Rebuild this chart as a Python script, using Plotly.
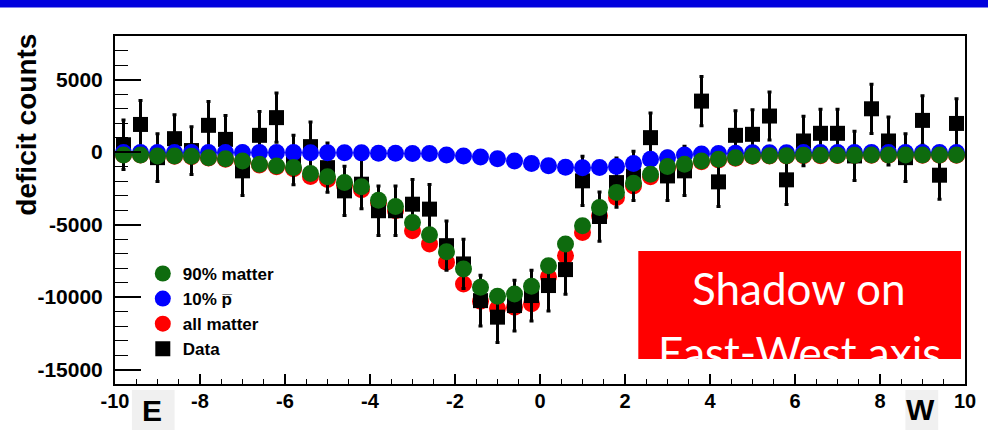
import plotly.graph_objects as go

# ---- data ----
x_bins = [-9.8, -9.4, -9.0, -8.6, -8.2, -7.8, -7.4, -7.0, -6.6, -6.2,
          -5.8, -5.4, -5.0, -4.6, -4.2, -3.8, -3.4, -3.0, -2.6, -2.2,
          -1.8, -1.4, -1.0, -0.6, -0.2, 0.2, 0.6, 1.0, 1.4, 1.8,
          2.2, 2.6, 3.0, 3.4, 3.8, 4.2, 4.6, 5.0, 5.4, 5.8,
          6.2, 6.6, 7.0, 7.4, 7.8, 8.2, 8.6, 9.0, 9.4, 9.8]

matter90 = [-200, -200, -275, -275, -300, -390, -460, -620, -850, -960,
            -1075, -1490, -1700, -2100, -2400, -3320, -3760, -4860, -5700, -6880,
            -8070, -9330, -9950, -9790, -9260, -7840, -6350, -5090, -3830, -2800,
            -2150, -1530, -1000, -850, -620, -500, -390, -275, -250, -250,
            -230, -230, -220, -220, -200, -200, -200, -200, -200, -200]

pbar10 = [-40, -40, -40, -40, -40, -40, -40, -40, -40, -40,
          -40, -50, -50, -50, -60, -80, -90, -100, -110, -200,
          -275, -340, -460, -620, -800, -950, -1050, -1080, -1070, -1000,
          -800, -500, -390, -200, -140, -110, -80, -60, -50, -50,
          -40, -40, -40, -40, -40, -40, -40, -40, -40, -40]

all_matter = [-210, -210, -290, -290, -320, -420, -500, -650, -900, -1020,
              -1150, -1690, -1900, -2300, -2600, -3500, -4050, -5430, -6350, -7600,
              -9100, -10300, -10800, -10700, -10470, -8600, -7150, -5550, -4400, -3140,
              -2340, -1700, -1100, -950, -680, -550, -430, -300, -280, -270,
              -250, -250, -240, -240, -230, -220, -220, -220, -220, -220]

data_vals = [500, 1900, -390, 920, 100, 1840, 870, -1300, 1150, 2370,
             -550, 370, -1080, -2680, -2220, -4050, -4050, -3600, -3940, -6460,
             -7720, -10250, -11390, -10590, -9900, -9210, -8110, -1990, -4450, -2110,
             -1650, 990, -1650, -1300, 3510, -2060, 1150, 1220, 2480, -1920,
             760, 1290, 1290, -270, 2980, 760, -390, 2180, -1600, 1970]

data_err = [1700, 1650, 1650, 1650, 1650, 1650, 1650, 1700, 1650, 1700,
            1700, 1700, 1700, 1700, 1700, 1700, 1700, 1700, 1700, 1700,
            1700, 1750, 1750, 1750, 1750, 1750, 1700, 1700, 1700, 1700,
            1700, 1700, 1700, 1700, 1700, 1700, 1700, 1700, 1650, 1700,
            1700, 1650, 1650, 1700, 1700, 1650, 1650, 1700, 1650, 1700]

y_tick_vals = [-15000, -10000, -5000, 0, 5000]
y_tick_text = ["-15000", "-10000", "-5000", "0", "5000"]
x_tick_vals = [-10, -8, -6, -4, -2, 0, 2, 4, 6, 8, 10]
x_tick_text = ["-10", "-8", "-6", "-4", "-2", "0", "2", "4", "6", "8", "10"]

GREEN = "#0e6b0e"
BLUE = "#0000ff"
RED = "#ff0000"
BLACK = "#000000"

fig = go.Figure()

fig.add_trace(go.Scatter(
    x=x_bins, y=all_matter, mode="markers", name="all matter",
    legendgroup="c", legendrank=3,
    marker=dict(symbol="circle", size=17, color=RED, line=dict(width=0))))

fig.add_trace(go.Scatter(
    x=x_bins, y=data_vals, mode="markers", name="Data",
    legendgroup="d", legendrank=4,
    marker=dict(symbol="square", size=15, color=BLACK, line=dict(width=0)),
    error_y=dict(type="data", array=data_err, visible=True,
                 color=BLACK, thickness=3, width=2)))

fig.add_trace(go.Scatter(
    x=x_bins, y=pbar10, mode="markers", name="10% p\u0305",
    legendgroup="b", legendrank=2,
    marker=dict(symbol="circle", size=17, color=BLUE, line=dict(width=0))))

fig.add_trace(go.Scatter(
    x=x_bins, y=matter90, mode="markers", name="90% matter",
    legendgroup="a", legendrank=1,
    marker=dict(symbol="circle", size=17, color=GREEN, line=dict(width=0))))

YTICKFONT = dict(family="Liberation Sans, Arial, sans-serif", size=21,
                 color="black", weight="bold")
XTICKFONT = dict(family="Liberation Sans, Arial, sans-serif", size=20,
                 color="black", weight="bold")

L, R, T, B = 115, 17, 36, 50
PW = 988 - L - R
PH = 434 - T - B


def px(xp):
    return (xp - L) / PW


def py(yp):
    return (434 - B - yp) / PH


fig.update_layout(
    width=988, height=434, autosize=False,
    margin=dict(l=L, r=R, t=T, b=B),
    paper_bgcolor="white", plot_bgcolor="white",
    showlegend=True,
    legend=dict(x=px(143), y=0.368, xanchor="left", yanchor="top",
                bgcolor="rgba(0,0,0,0)", borderwidth=0,
                tracegroupgap=0, itemsizing="trace",
                font=dict(family="Liberation Sans, Arial, sans-serif", size=17,
                          color="black", weight="bold")),
    xaxis=dict(range=[-10, 10], tickmode="array", tickvals=x_tick_vals,
               ticktext=x_tick_text,
               ticks="inside", ticklen=10, tickwidth=1.5, tickcolor="black",
               showgrid=False, zeroline=False, showline=True, mirror=True,
               linecolor="black", linewidth=2, tickfont=XTICKFONT,
               ticklabelstandoff=-2,
               minor=dict(ticks="inside", ticklen=5, dtick=0.5, tick0=0,
                          tickwidth=1.2, tickcolor="black", showgrid=False)),
    yaxis=dict(range=[-16000, 8000], tickmode="array", tickvals=y_tick_vals,
               ticktext=y_tick_text,
               ticks="inside", ticklen=26, tickwidth=1.5, tickcolor="black",
               showgrid=False, zeroline=False, showline=True, mirror=True,
               linecolor="black", linewidth=2, tickfont=YTICKFONT,
               ticklabelstandoff=6,
               minor=dict(ticks="inside", ticklen=13, dtick=1000, tick0=0,
                          tickwidth=1.2, tickcolor="black", showgrid=False)),
)

shapes = [
    # top blue banner
    dict(type="rect", xref="paper", yref="paper", x0=px(-10), x1=px(1000),
         y0=py(7.5), y1=py(-2), fillcolor="#0000dd", line=dict(width=0), layer="above"),
    # red label box
    dict(type="rect", xref="paper", yref="paper", x0=px(642), x1=px(967),
         y0=py(359), y1=py(251), fillcolor="#ff0000", line=dict(width=0), layer="above"),
    # E / W grey boxes
    dict(type="rect", xref="paper", yref="paper", x0=px(132), x1=px(175),
         y0=py(430), y1=py(390), fillcolor="#f0f0f0", line=dict(width=0), layer="below"),
    dict(type="rect", xref="paper", yref="paper", x0=px(911), x1=px(944),
         y0=py(430), y1=py(390), fillcolor="#f0f0f0", line=dict(width=0), layer="below"),
]
fig.update_layout(shapes=shapes)

annotations = [
    dict(text="deficit counts", xref="paper", yref="paper",
         x=px(25), y=py(125), showarrow=False, textangle=-90,
         xanchor="center", yanchor="middle",
         font=dict(family="Liberation Sans, Arial, sans-serif", size=28,
                   color="black", weight="bold")),
    dict(text="E", xref="paper", yref="paper",
         x=px(152), y=py(410), showarrow=False,
         xanchor="center", yanchor="middle",
         font=dict(family="Liberation Sans, Arial, sans-serif", size=30,
                   color="black", weight="bold")),
    dict(text="W", xref="paper", yref="paper",
         x=px(926), y=py(409), showarrow=False,
         xanchor="center", yanchor="middle",
         font=dict(family="Liberation Sans, Arial, sans-serif", size=30,
                   color="black", weight="bold")),
    dict(text="Shadow on", xref="paper", yref="paper",
         x=px(804), y=py(288), showarrow=False,
         xanchor="center", yanchor="middle",
         font=dict(family="Lato, Open Sans, sans-serif", size=44, color="white")),
    dict(text="East-West axis", xref="paper", yref="paper",
         x=px(804), y=py(352), showarrow=False,
         xanchor="center", yanchor="middle",
         font=dict(family="Lato, Open Sans, sans-serif", size=44, color="white")),
]
fig.update_layout(annotations=annotations)

fig.write_html("out.html", config={"displayModeBar": False},
               post_script="document.body.style.margin='0';document.body.style.overflow='hidden';")
